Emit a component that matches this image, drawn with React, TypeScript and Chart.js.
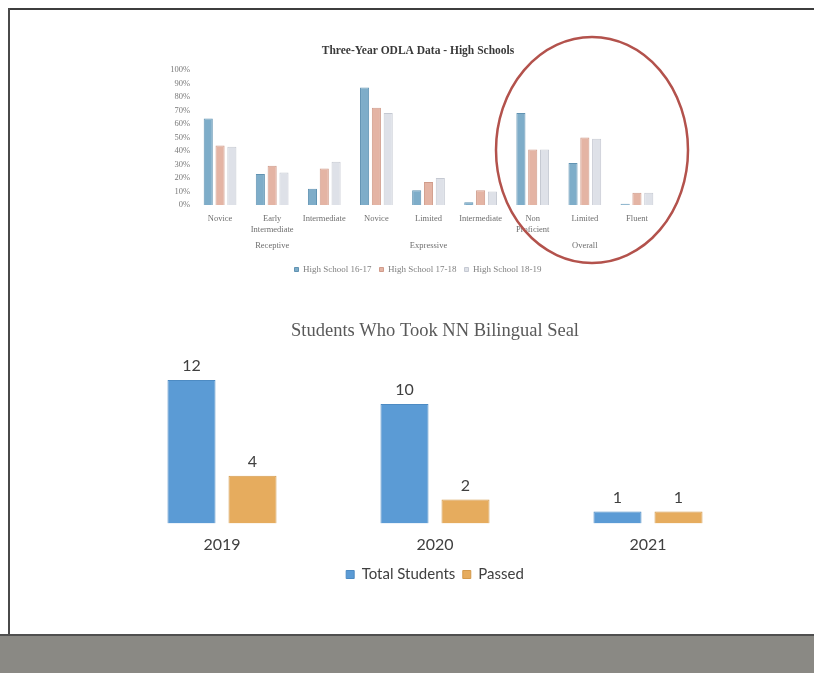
import React, { useEffect, useRef } from "react";
import { Chart, registerables } from "chart.js";

Chart.register(...registerables);

// ---- Top chart data: Three-Year ODLA Data - High Schools ----
const odlaCategories: string[][] = [
  ["Novice"],
  ["Early", "Intermediate"],
  ["Intermediate"],
  ["Novice"],
  ["Limited"],
  ["Intermediate"],
  ["Non", "Proficient"],
  ["Limited"],
  ["Fluent"],
];
const odlaGroups = ["Receptive", "Expressive", "Overall"];
const odlaSeriesNames = ["High School 16-17", "High School 17-18", "High School 18-19"];
const hs1617 = [64, 23, 12, 87, 11, 2, 68, 31, 1];
const hs1718 = [44, 29, 27, 72, 17, 11, 41, 50, 9];
const hs1819 = [43, 24, 32, 68, 20, 10, 41, 49, 9];

// ---- Bottom chart data: Students Who Took NN Bilingual Seal ----
const sealYears = ["2019", "2020", "2021"];
const sealSeriesNames = ["Total Students", "Passed"];
const totalStudents = [12, 10, 1];
const passedStudents = [4, 2, 1];

const SERIF = "'Liberation Serif', 'DejaVu Serif', serif";
const SANS = "Lato, 'Liberation Sans', sans-serif";

const valueLabels = {
  id: "valueLabels",
  afterDatasetsDraw(chart: any) {
    const { ctx } = chart;
    ctx.save();
    ctx.font = `16px ${SANS}`;
    ctx.fillStyle = "#404040";
    ctx.textAlign = "center";
    ctx.textBaseline = "bottom";
    chart.data.datasets.forEach((ds: any, i: number) => {
      const meta = chart.getDatasetMeta(i);
      meta.data.forEach((el: any, j: number) => {
        ctx.fillText(String(ds.data[j]), el.x, el.y - 6);
      });
    });
    ctx.restore();
  },
};

export default function App() {
  const topRef = useRef<HTMLCanvasElement>(null);
  const botRef = useRef<HTMLCanvasElement>(null);

  useEffect(() => {
    const tickFont = { family: SERIF, size: 8.5 };
    const topChart = new Chart(topRef.current!, {
      type: "bar",
      data: {
        labels: odlaCategories,
        datasets: [
          { label: odlaSeriesNames[0], data: hs1617, backgroundColor: "#7eadc9", borderColor: "#6193b2", borderWidth: 1 },
          { label: odlaSeriesNames[1], data: hs1718, backgroundColor: "#e4b4a4", borderColor: "#d09b8a", borderWidth: 1 },
          { label: odlaSeriesNames[2], data: hs1819, backgroundColor: "#dee1e8", borderColor: "#c5c9d2", borderWidth: 1 },
        ],
      },
      options: {
        animation: false,
        responsive: false,
        maintainAspectRatio: false,
        layout: { padding: 0 },
        datasets: { bar: { categoryPercentage: 0.68, barPercentage: 0.77 } },
        scales: {
          x: {
            weight: 0,
            grid: { display: false, drawTicks: false },
            border: { display: false },
            ticks: { font: tickFont, color: "#6f6f6f", padding: 9, maxRotation: 0, autoSkip: false },
            afterFit: (s: any) => { s.height = 36; },
          },
          x2: {
            type: "category",
            labels: odlaGroups,
            position: "bottom",
            weight: 1,
            offset: true,
            grid: { display: false, drawTicks: false },
            border: { display: false },
            ticks: { font: tickFont, color: "#6f6f6f", padding: 0, maxRotation: 0, autoSkip: false },
            afterFit: (s: any) => { s.height = 16; },
          },
          y: {
            min: 0,
            max: 100,
            grid: { display: false, drawTicks: false },
            border: { display: false },
            ticks: { stepSize: 10, padding: 4, font: tickFont, color: "#7a7a7a", callback: (v: any) => v + "%" },
            afterFit: (s: any) => { s.width = 54; },
          },
          yRight: {
            position: "right",
            min: 0,
            max: 100,
            grid: { display: false, drawTicks: false },
            border: { display: false },
            ticks: { display: false },
            afterFit: (s: any) => { s.width = 33; },
          },
        },
        plugins: {
          title: {
            display: true,
            text: "Three-Year ODLA Data - High Schools",
            font: { family: SERIF, size: 11.5, weight: "bold" },
            color: "#3a3a3a",
            padding: { top: 9, bottom: 12 },
          },
          legend: {
            position: "bottom",
            labels: { boxWidth: 4, boxHeight: 4, padding: 8, font: { family: SERIF, size: 9 }, color: "#808080" },
          },
          tooltip: { enabled: false },
        },
      } as any,
    });

    const botChart = new Chart(botRef.current!, {
      type: "bar",
      data: {
        labels: sealYears,
        datasets: [
          { label: sealSeriesNames[0], data: totalStudents, backgroundColor: "#5b9bd5", borderColor: "#4d8bc3", borderWidth: 1 },
          { label: sealSeriesNames[1], data: passedStudents, backgroundColor: "#e6ac5e", borderColor: "#d39a4d", borderWidth: 1 },
        ],
      },
      options: {
        animation: false,
        responsive: false,
        maintainAspectRatio: false,
        layout: { padding: { left: 20.5, right: 20.5, top: 0, bottom: 0 } },
        datasets: { bar: { categoryPercentage: 0.573, barPercentage: 0.787 } },
        scales: {
          x: {
            grid: { display: false, drawTicks: false },
            border: { display: false },
            ticks: { font: { family: SANS, size: 16 }, color: "#404040", padding: 12 },
            afterFit: (s: any) => { s.height = 36; },
          },
          y: { display: false, min: 0, max: 14 },
        },
        plugins: {
          title: {
            display: true,
            text: "Students Who Took NN Bilingual Seal",
            font: { family: SERIF, size: 18.5, weight: "normal" },
            color: "#595959",
            padding: { top: 20, bottom: 14 },
          },
          legend: {
            position: "bottom",
            labels: { boxWidth: 8, boxHeight: 8, padding: 7.5, font: { family: SANS, size: 15 }, color: "#404040" },
          },
          tooltip: { enabled: false },
        },
      } as any,
      plugins: [valueLabels],
    });

    return () => {
      topChart.destroy();
      botChart.destroy();
    };
  }, []);

  return (
    <div style={{ position: "fixed", left: 0, top: 0, width: 814, height: 673, background: "#ffffff", overflow: "hidden" }}>
      {/* scanned page frame */}
      <div style={{ position: "absolute", left: 8, top: 8, width: 806, height: 2, background: "#3d3d3d" }} />
      <div style={{ position: "absolute", left: 8, top: 8, width: 2, height: 626, background: "#4a4a4a" }} />
      <div style={{ position: "absolute", left: 0, top: 634, width: 814, height: 39, background: "#8a8984", borderTop: "2px solid #4f4f4f", boxSizing: "border-box" }} />
      <canvas ref={topRef} width={556} height={249} style={{ position: "absolute", left: 140, top: 35, width: 556, height: 249 }} />
      <canvas ref={botRef} width={680} height={292} style={{ position: "absolute", left: 95, top: 300, width: 680, height: 292 }} />
      <svg width={814} height={673} style={{ position: "absolute", left: 0, top: 0, pointerEvents: "none" }}>
        <ellipse cx={592} cy={150} rx={96} ry={113} fill="none" stroke="#b3524c" strokeWidth={2.5} />
      </svg>
    </div>
  );
}
